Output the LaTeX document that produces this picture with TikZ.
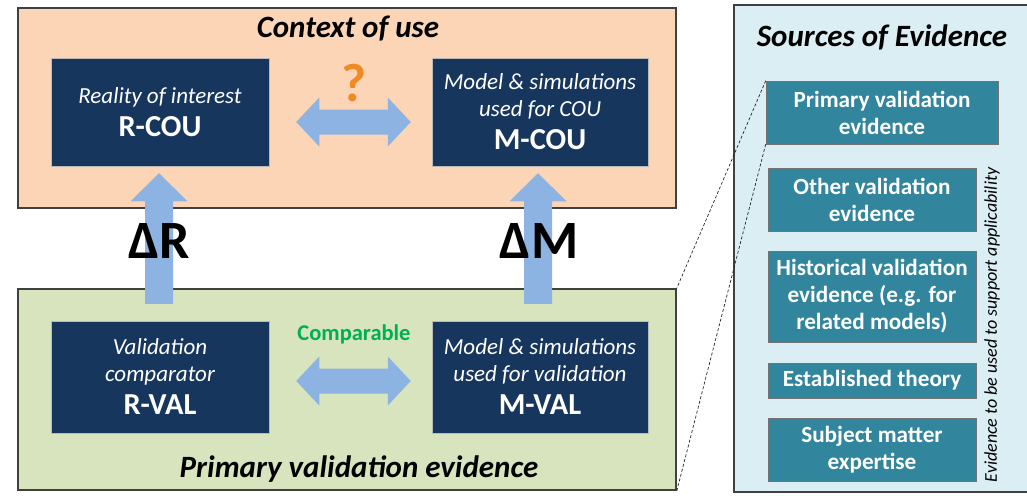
\documentclass[tikz,border=0pt]{standalone}
\usepackage{fontspec}
\setmainfont{Carlito}
\usetikzlibrary{calc}

\definecolor{cousand}{HTML}{FBD5B5}
\definecolor{valgreen}{HTML}{D7E4BD}
\definecolor{navyfill}{HTML}{17365D}
\definecolor{srcteal}{HTML}{31859C}
\definecolor{panelblue}{HTML}{DBEEF4}
\definecolor{fatblue}{HTML}{8DB3E2}
\definecolor{qorange}{HTML}{F08A24}
\definecolor{cmpgreen}{HTML}{00B050}

\newcommand\boxsub{\fontsize{23}{27}\selectfont\itshape}
\newcommand\boxlbl{\fontsize{30.5}{33}\selectfont\bfseries}

\tikzset{
  panel/.style={draw=black!75, line width=1.6pt, inner sep=0pt},
  navybox/.style={fill=navyfill, draw=gray!55, line width=0.5pt, text=white,
    align=center, minimum width=218pt, minimum height=108pt, inner sep=0pt,
    font=\fontsize{23}{27}\selectfont},
  srcbox/.style={fill=srcteal, draw=black!55, line width=0.6pt, text=white,
    align=center, inner sep=0pt, minimum width=208pt,
    font=\fontsize{23.2}{27}\selectfont\bfseries},
  fatarrow/.style={fill=fatblue},
  paneltitle/.style={font=\fontsize{31}{34}\selectfont\bfseries\itshape},
  deltalbl/.style={font=\fontsize{54}{58}\selectfont\bfseries},
  linkline/.style={draw=black!85, line width=0.7pt, dash pattern=on 3pt off 2pt},
}

\begin{document}
\begin{tikzpicture}[x=1pt, y=-1pt]
\useasboundingbox (0,0) rectangle (1027,495);

% background panels
\node[panel, fill=cousand, minimum width=658pt, minimum height=200pt] (cou) at (347,108) {};
\node[panel, fill=valgreen, minimum width=658pt, minimum height=201pt] (val) at (347,389.5) {};
\node[panel, fill=panelblue, minimum width=306pt, minimum height=487pt] (src) at (887,248.5) {};

% panel titles
\node[paneltitle] (coutitle) at (348,29) {Context of use};
\node[paneltitle] (valtitle) at (359,469) {Primary validation evidence};
\node[paneltitle] (srctitle) at (882,37) {Sources of Evidence};

% reality / model boxes
\node[navybox] (rcou) at (160,112) {{\boxsub Reality of interest}\\[6pt]{\boxlbl R-COU}};
\node[navybox, minimum width=216pt] (mcou) at (540,112)
  {{\boxsub Model \& simulations}\\{\boxsub used for COU}\\[6pt]{\boxlbl M-COU}};
\node[navybox, minimum height=112pt] (rval) at (160,377)
  {{\boxsub Validation}\\{\boxsub comparator}\\[6pt]{\boxlbl R-VAL}};
\node[navybox, minimum width=216pt, minimum height=112pt] (mval) at (540,377)
  {{\boxsub Model \& simulations}\\{\boxsub used for validation}\\[6pt]{\boxlbl M-VAL}};

% horizontal double arrows
\coordinate (qa) at ($(rcou.east)+(27,10)$);
\coordinate (qb) at ($(mcou.west)+(-21,10)$);
\fill[fatarrow] let \p1=(qa), \p2=(qb) in
  (\x1,\y1) -- (\x1+23pt,\y1+24.5pt) -- (\x1+23pt,\y1+12.5pt) -- (\x2-23pt,\y1+12.5pt)
  -- (\x2-23pt,\y1+24.5pt) -- (\x2,\y1) -- (\x2-23pt,\y1-24.5pt) -- (\x2-23pt,\y1-12.5pt)
  -- (\x1+23pt,\y1-12.5pt) -- (\x1+23pt,\y1-24.5pt) -- cycle;

\coordinate (ca) at ($(rval.east)+(27,4)$);
\coordinate (cb) at ($(mval.west)+(-21,4)$);
\fill[fatarrow] let \p1=(ca), \p2=(cb) in
  (\x1,\y1) -- (\x1+23pt,\y1+24.5pt) -- (\x1+23pt,\y1+12.5pt) -- (\x2-23pt,\y1+12.5pt)
  -- (\x2-23pt,\y1+24.5pt) -- (\x2,\y1) -- (\x2-23pt,\y1-24.5pt) -- (\x2-23pt,\y1-12.5pt)
  -- (\x1+23pt,\y1-12.5pt) -- (\x1+23pt,\y1-24.5pt) -- cycle;

\node[font=\fontsize{54}{58}\selectfont\bfseries, text=qorange] (qmark) at (354,83) {?};
\node[font=\fontsize{22.5}{26}\selectfont\bfseries, text=cmpgreen] (cmp) at (354,334) {Comparable};

% upward arrows from validation to context of use
\coordinate (rtip) at ($(rcou.south)+(-1,7)$);
\coordinate (rfoot) at ($(rval.north)+(0,-17)$);
\fill[fatarrow] let \p1=(rtip), \p2=(rfoot) in
  (\x1,\y1) -- (\x1+28.5pt,\y1-28pt) -- (\x1+14pt,\y1-28pt) -- (\x1+14pt,\y2)
  -- (\x1-14pt,\y2) -- (\x1-14pt,\y1-28pt) -- (\x1-28.5pt,\y1-28pt) -- cycle;

\coordinate (mtip) at ($(mcou.south)+(-2,7)$);
\coordinate (mfoot) at ($(mval.north)+(-2,-17)$);
\fill[fatarrow] let \p1=(mtip), \p2=(mfoot) in
  (\x1,\y1) -- (\x1+28.5pt,\y1-28pt) -- (\x1+14pt,\y1-28pt) -- (\x1+14pt,\y2)
  -- (\x1-14pt,\y2) -- (\x1-14pt,\y1-28pt) -- (\x1-28.5pt,\y1-28pt) -- cycle;

\node[deltalbl] (dr) at (159,241) {ΔR};
\node[deltalbl] (dm) at (539,241) {ΔM};

% sources of evidence
\node[srcbox, minimum width=232pt, minimum height=63pt] (pve) at (882,112.5) {Primary validation\\evidence};
\node[srcbox, minimum height=63pt] (ove) at (872,199.5) {Other validation\\evidence};
\node[srcbox, minimum height=91pt] (hve) at (872,296.5) {Historical validation\\evidence (e.g. for\\related models)};
\node[srcbox, minimum height=35pt] (est) at (872,380.5) {Established theory};
\node[srcbox, minimum height=63pt] (sme) at (872,449.5) {Subject matter\\expertise};

\node[rotate=90, font=\fontsize{18}{20}\selectfont\itshape] (applic) at (992,325)
  {Evidence to be used to support applicability};

% zoom-out lines
\draw[linkline] (pve.north west) -- (val.north east);
\draw[linkline] (pve.south west) -- (val.south east);
\end{tikzpicture}
\end{document}
